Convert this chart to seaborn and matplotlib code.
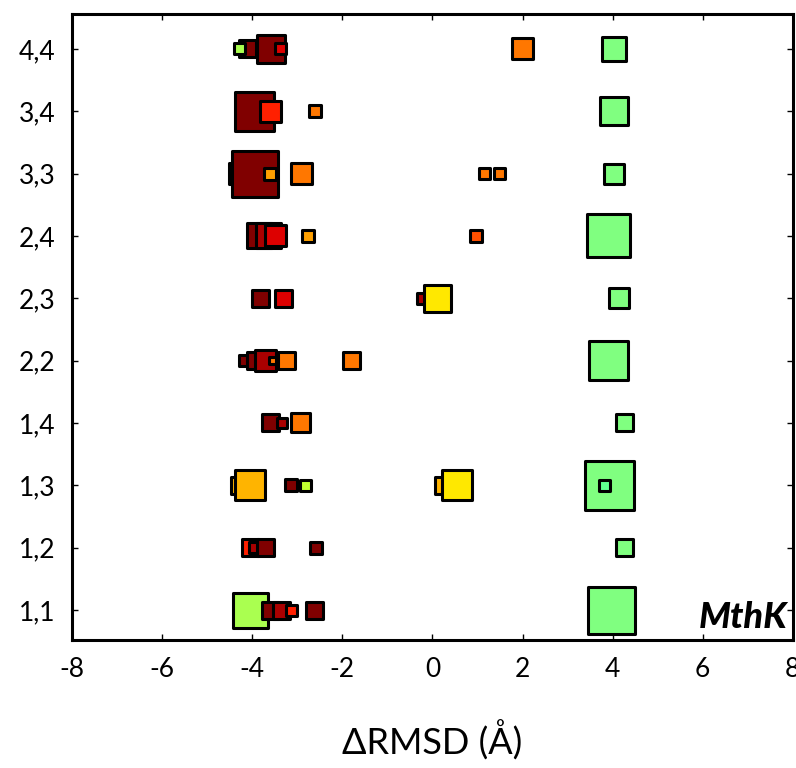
import pandas as pd
import matplotlib
matplotlib.use("Agg")
import matplotlib.pyplot as plt
import seaborn as sns

# pares de hélices (eje y, de abajo arriba)
pairs = ["1,1", "1,2", "1,3", "1,4", "2,2", "2,3", "2,4", "3,3", "3,4", "4,4"]

# colores usados en el gráfico
M = "#800000"
R2 = "#aa0000"
R = "#dd0000"
RO = "#ff2000"
OR = "#ff5000"
O = "#ff7700"
OY = "#ffa000"
AMB = "#ffb400"
Y = "#ffe800"
GY = "#aaff50"
GY2 = "#c0ff30"
G = "#80ff80"
MINT = "#60ff90"

# una lista por par: (delta RMSD, tamaño del cuadrado en px, color), en orden de dibujo
row_11 = [(-4.04, 38, GY), (-3.60, 20, M), (-3.35, 20, R2), (-3.13, 14, RO), (-2.61, 20, M), (3.98, 50, G)]
row_12 = [(-4.04, 20, RO), (-3.96, 14, R2), (-3.70, 20, M), (-2.59, 15, M), (4.26, 20, G)]
row_13 = [(-4.29, 20, AMB), (-4.05, 33, AMB), (-3.14, 15, M), (-2.82, 14, GY2),
          (0.24, 20, AMB), (0.55, 33, Y), (3.93, 52, G), (3.81, 14, MINT)]
row_14 = [(-3.60, 20, M), (-3.34, 13, R2), (-2.93, 22, O), (4.26, 20, G)]
row_22 = [(-4.18, 14, M), (-3.93, 20, M), (-3.71, 24, R2), (-3.56, 10, O), (-3.23, 20, O),
          (-1.80, 20, O), (3.91, 42, G)]
row_23 = [(-3.82, 20, M), (-3.31, 20, R), (-0.23, 14, R2), (0.11, 30, Y), (4.15, 23, G)]
row_24 = [(-3.83, 28, M), (-3.64, 28, R2), (-3.48, 24, R), (-2.76, 15, OY), (0.96, 15, OR), (3.91, 46, G)]
row_33 = [(-4.29, 24, M), (-3.93, 49, M), (-3.60, 15, OY), (-2.91, 24, O),
          (1.16, 14, O), (1.49, 14, O), (4.03, 23, G)]
row_34 = [(-3.94, 42, M), (-3.60, 24, RO), (-2.60, 15, O), (4.03, 31, G)]
row_44 = [(-4.10, 20, M), (-4.29, 14, GY), (-3.59, 31, M), (-3.37, 14, R), (1.99, 24, O), (4.04, 27, G)]

rows = [row_11, row_12, row_13, row_14, row_22, row_23, row_24, row_33, row_34, row_44]

records = []
for pair, row in zip(pairs, rows):
    for x, size, color in row:
        records.append({"pair": pair, "drmsd": x, "side": size, "color": color})
df = pd.DataFrame(records)

# tamaño en px -> área del marcador en pt^2 (se descuenta el borde)
df["area"] = ((df["side"] - 3) * 0.72) ** 2

fig, ax = plt.subplots(figsize=(7.96, 7.68), dpi=100)
fig.subplots_adjust(left=0.0905, right=0.996, bottom=0.1667, top=0.9818)

sns.scatterplot(data=df, x="drmsd", y="pair", hue="color", size="area",
                palette={c: c for c in df["color"].unique()},
                sizes={a: a for a in df["area"].unique()},
                marker="s", edgecolor="black", linewidth=2.2,
                legend=False, ax=ax, zorder=3)

ax.set_xlim(-8, 8)
ax.set_ylim(-0.48, 9.56)
ax.set_xticks([-8, -6, -4, -2, 0, 2, 4, 6, 8])
ax.set_xticklabels(["-8", "-6", "-4", "-2", "0", "2", "4", "6", "8"])

fam = ["Lato", "DejaVu Sans"]
for lab in ax.get_xticklabels() + ax.get_yticklabels():
    lab.set_family(fam)
    lab.set_fontsize(19)

ax.tick_params(direction="in", length=4, width=1, top=True, right=True, pad=12)
for sp in ax.spines.values():
    sp.set_linewidth(2.2)

ax.set_ylabel("")
ax.set_xlabel("\u0394RMSD (\u00c5)", fontsize=26, family=fam, labelpad=28)

ax.text(0.993, 0.019, "MthK", transform=ax.transAxes, ha="right", va="baseline",
        fontsize=26, fontweight="black", fontstyle="italic", family=fam)

plt.savefig("out.png", dpi=100)
